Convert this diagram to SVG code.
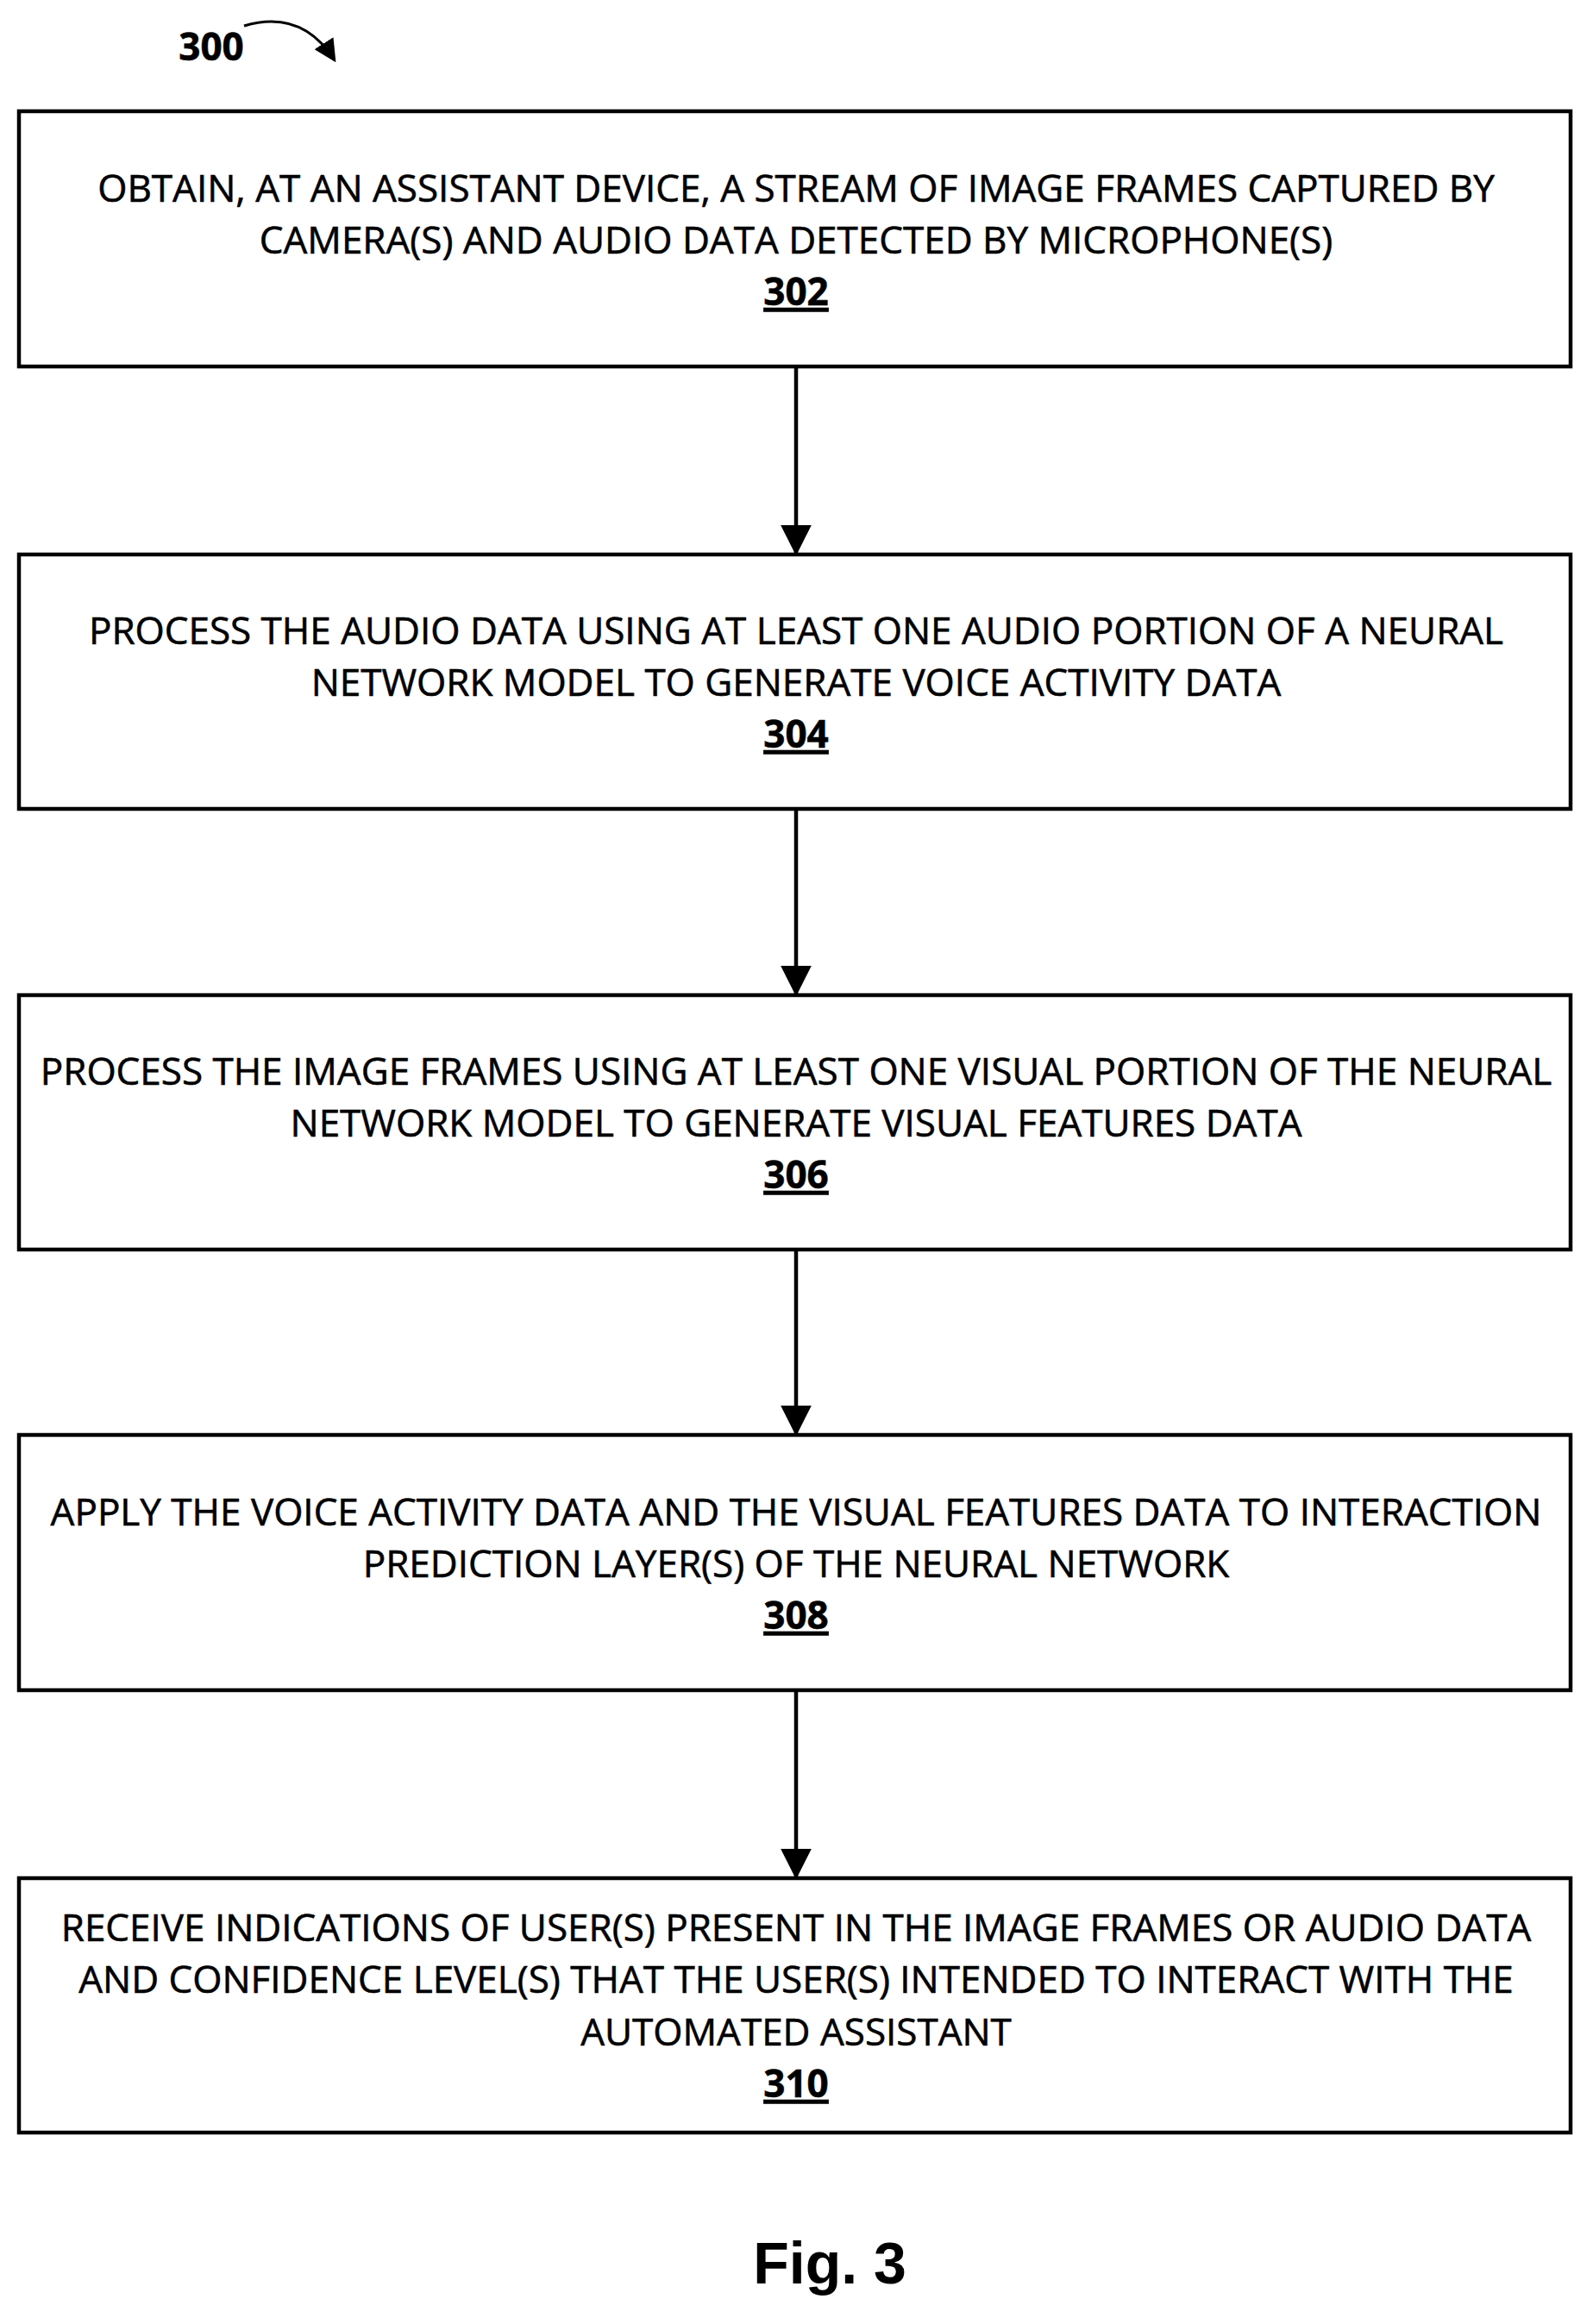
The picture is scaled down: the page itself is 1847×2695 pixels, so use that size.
<svg xmlns="http://www.w3.org/2000/svg" width="1847" height="2695" viewBox="0 0 1847 2695">
<style>
.b{fill:#fff;stroke:#000;stroke-width:4.5}
.t{font-family:"Open Sans","Liberation Sans",sans-serif;font-size:44px;text-anchor:middle;fill:#000;stroke:#000;stroke-width:0.6}
.n{font-weight:bold;text-decoration:underline}
.c{stroke:#000;stroke-width:4.5;fill:none}
</style>
<defs>
<marker id="h" viewBox="0 0 10 10" refX="9" refY="5" markerWidth="36" markerHeight="36" orient="auto" markerUnits="userSpaceOnUse"><path d="M0,0 L10,5 L0,10 z"/></marker>
<marker id="s" viewBox="0 0 10 10" refX="9" refY="5" markerWidth="26" markerHeight="26" orient="auto" markerUnits="userSpaceOnUse"><path d="M0,0 L10,5 L0,10 z"/></marker></defs>
<rect width="1847" height="2695" fill="#fff"/>
<g id="label300"><text x="245" y="70" class="t" style="font-weight:bold">300</text>
<path d="M283,30 Q350,10 388,70" style="stroke:#000;stroke-width:3;fill:none" marker-end="url(#s)"/></g>
<g id="connectors">
<line class="c" x1="923" y1="425" x2="923" y2="641" marker-end="url(#h)"/>
<line class="c" x1="923" y1="938" x2="923" y2="1152" marker-end="url(#h)"/>
<line class="c" x1="923" y1="1449" x2="923" y2="1662" marker-end="url(#h)"/>
<line class="c" x1="923" y1="1960" x2="923" y2="2176" marker-end="url(#h)"/>
</g>
<g id="n302"><rect class="b" x="22" y="129" width="1799" height="296"/>
<text class="t" x="923" y="234">OBTAIN, AT AN ASSISTANT DEVICE, A STREAM OF IMAGE FRAMES CAPTURED BY</text>
<text class="t" x="923" y="294">CAMERA(S) AND AUDIO DATA DETECTED BY MICROPHONE(S)</text>
<text class="t n" x="923" y="354">302</text></g>
<g id="n304"><rect class="b" x="22" y="643" width="1799" height="295"/>
<text class="t" x="923" y="747">PROCESS THE AUDIO DATA USING AT LEAST ONE AUDIO PORTION OF A NEURAL</text>
<text class="t" x="923" y="807">NETWORK MODEL TO GENERATE VOICE ACTIVITY DATA</text>
<text class="t n" x="923" y="867">304</text></g>
<g id="n306"><rect class="b" x="22" y="1154" width="1799" height="295"/>
<text class="t" x="923" y="1258">PROCESS THE IMAGE FRAMES USING AT LEAST ONE VISUAL PORTION OF THE NEURAL</text>
<text class="t" x="923" y="1318">NETWORK MODEL TO GENERATE VISUAL FEATURES DATA</text>
<text class="t n" x="923" y="1378">306</text></g>
<g id="n308"><rect class="b" x="22" y="1664" width="1799" height="296"/>
<text class="t" x="923" y="1769">APPLY THE VOICE ACTIVITY DATA AND THE VISUAL FEATURES DATA TO INTERACTION</text>
<text class="t" x="923" y="1829">PREDICTION LAYER(S) OF THE NEURAL NETWORK</text>
<text class="t n" x="923" y="1889">308</text></g>
<g id="n310"><rect class="b" x="22" y="2178" width="1799" height="295"/>
<text class="t" x="923" y="2251">RECEIVE INDICATIONS OF USER(S) PRESENT IN THE IMAGE FRAMES OR AUDIO DATA</text>
<text class="t" x="923" y="2311">AND CONFIDENCE LEVEL(S) THAT THE USER(S) INTENDED TO INTERACT WITH THE</text>
<text class="t" x="923" y="2372">AUTOMATED ASSISTANT</text>
<text class="t n" x="923" y="2432">310</text></g>
<text x="962" y="2648" style="font-family:'Liberation Sans',Arial,sans-serif;font-weight:bold;font-size:68px;text-anchor:middle">Fig. 3</text>
</svg>
